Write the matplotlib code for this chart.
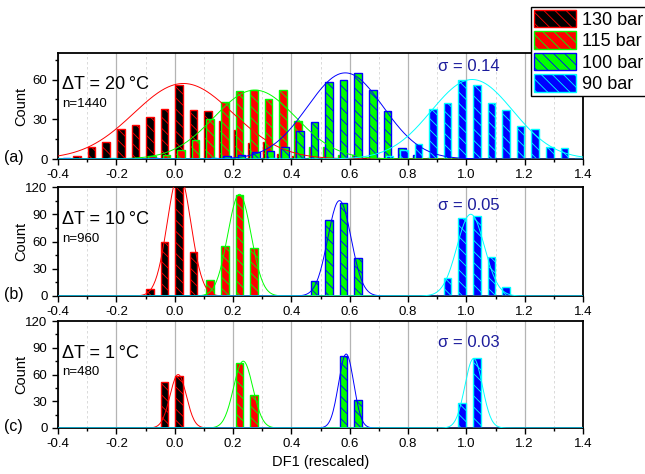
import matplotlib
matplotlib.use('Agg')
import matplotlib.pyplot as plt
import numpy as np

plt.rcParams['font.family'] = ['Liberation Sans', 'DejaVu Sans']
plt.rcParams['axes.unicode_minus'] = False
plt.rcParams['hatch.linewidth'] = 0.6

# ---- data (bin start, counts) ----
# panel (a)  dT = 20 C
x130_a = [-0.35, -0.3, -0.25, -0.2, -0.15, -0.1, -0.05, 0.0, 0.05, 0.1, 0.15, 0.2, 0.25, 0.3, 0.35, 0.4, 0.45]
n130_a = [2, 9, 13, 23, 26, 32, 38, 56, 37, 36, 29, 22, 12, 13, 4, 2, 1]
x115_a = [-0.15, -0.1, -0.05, 0.0, 0.05, 0.1, 0.15, 0.2, 0.25, 0.3, 0.35, 0.4, 0.45, 0.5, 0.55, 0.6, 0.65]
n115_a = [1, 2, 3, 7, 14, 30, 43, 51, 52, 45, 52, 29, 9, 9, 3, 3, 1]
x100_a = [-0.4, -0.1, 0.1, 0.15, 0.2, 0.25, 0.3, 0.35, 0.4, 0.45, 0.5, 0.55, 0.6, 0.65, 0.7, 0.75, 0.8, 0.85]
n100_a = [1, 1, 1, 2, 3, 5, 6, 9, 21, 28, 58, 60, 65, 52, 36, 8, 3, 1]
x90_a = [-0.25, 0.1, 0.3, 0.7, 0.75, 0.8, 0.85, 0.9, 0.95, 1.0, 1.05, 1.1, 1.15, 1.2, 1.25, 1.3, 1.35]
n90_a = [1, 1, 1, 2, 7, 11, 38, 42, 60, 56, 42, 37, 25, 23, 9, 8, 1]

# panel (b)  dT = 10 C
x130_b = [-0.1, -0.05, 0.0, 0.05]
n130_b = [8, 60, 124, 48]
x115_b = [0.1, 0.15, 0.2, 0.25]
n115_b = [18, 55, 111, 53]
x100_b = [0.45, 0.5, 0.55, 0.6]
n100_b = [16, 84, 102, 42]
x90_b = [0.9, 0.95, 1.0, 1.05, 1.1]
n90_b = [20, 86, 88, 43, 10]

# panel (c)  dT = 1 C
x130_c = [-0.05, 0.0]
n130_c = [52, 58]
x115_c = [0.2, 0.25]
n115_c = [73, 37]
x100_c = [0.55, 0.6]
n100_c = [81, 31]
x90_c = [0.95, 1.0]
n90_c = [28, 78]

# gaussian fits (centre, sigma, amplitude) per series
fit_a = [(0.03, 0.17, 57), (0.275, 0.14, 52), (0.585, 0.13, 65), (1.02, 0.14, 60)]
fit_b = [(0.015, 0.04, 135), (0.222, 0.04, 112), (0.565, 0.04, 105), (1.015, 0.047, 90)]
fit_c = [(0.012, 0.028, 60), (0.235, 0.033, 75), (0.588, 0.026, 83), (1.025, 0.03, 78)]

labels = ['130 bar', '115 bar', '100 bar', '90 bar']
face = ['#000000', '#ff0000', '#00ff00', '#0000ff']
edge = ['#ff0000', '#00ff00', '#0000ff', '#00ffff']
shift = [0.015, 0.022, 0.029, 0.036]

panels = [
    dict(xs=[x130_a, x115_a, x100_a, x90_a], ns=[n130_a, n115_a, n100_a, n90_a], fit=fit_a,
         ymax=80, dt='\u0394T = 20\u2009\u00b0C', n='n=1440', sig='\u03c3 = 0.14', sigy=70, tag='(a)'),
    dict(xs=[x130_b, x115_b, x100_b, x90_b], ns=[n130_b, n115_b, n100_b, n90_b], fit=fit_b,
         ymax=120, dt='\u0394T = 10\u2009\u00b0C', n='n=960', sig='\u03c3 = 0.05', sigy=100, tag='(b)'),
    dict(xs=[x130_c, x115_c, x100_c, x90_c], ns=[n130_c, n115_c, n100_c, n90_c], fit=fit_c,
         ymax=120, dt='\u0394T = 1\u2009\u00b0C', n='n=480', sig='\u03c3 = 0.03', sigy=96, tag='(c)'),
]

fig = plt.figure(figsize=(6.45, 4.74), dpi=100)
boxes = [(53, 159), (187, 296), (321, 428)]
W, H = 645.0, 474.0
xx = np.linspace(-0.4, 1.4, 600)
handles = []

for i, (p, (top, bot)) in enumerate(zip(panels, boxes)):
    ax = fig.add_axes([58 / W, 1 - bot / H, 525 / W, (bot - top) / H])
    for k in range(4):
        b = ax.bar(np.array(p['xs'][k]) + shift[k], p['ns'][k], width=0.026,
                   color=face[k], edgecolor=edge[k], hatch='\\\\\\', linewidth=1.0,
                   zorder=2 + k, label=labels[k])
        if i == 0:
            handles.append(b)
    for k, (mu, sg, amp) in enumerate(p['fit']):
        ax.plot(xx, amp * np.exp(-(xx - mu) ** 2 / (2 * sg ** 2)), color=edge[k], lw=0.7, zorder=7)

    ax.set_xlim(-0.4, 1.4)
    ax.set_ylim(0, p['ymax'])
    ax.set_xticks(np.arange(-0.4, 1.41, 0.2))
    ax.set_xticks(np.arange(-0.3, 1.4, 0.2), minor=True)
    ax.set_xticklabels(['%.1f' % v for v in np.arange(-0.4, 1.41, 0.2)])
    ax.set_yticks(np.arange(0, p['ymax'] + 1, 30))
    ax.set_yticks(np.arange(15, p['ymax'] + 1, 30), minor=True)
    ax.tick_params(axis='both', which='major', direction='out', length=4, width=1, labelsize=9.5)
    ax.tick_params(axis='both', which='minor', direction='out', length=2.5, width=1)
    ax.grid(True, axis='x', which='major', color='#b4b4b4', lw=0.9, zorder=0)
    ax.grid(True, axis='x', which='minor', color='#d4d4d4', lw=0.6, ls=(0, (3, 3)), zorder=0)
    ax.set_axisbelow(True)
    for s in ax.spines.values():
        s.set_linewidth(1.3)
    ax.set_ylabel('Count', fontsize=10.5)
    ax.yaxis.set_label_coords(-0.056, 0.5)

    ax.text(0.007, 0.70, p['dt'], transform=ax.transAxes, fontsize=13, va='center', ha='left', zorder=10)
    ax.text(0.007, 0.52, p['n'], transform=ax.transAxes, fontsize=9.5, va='center', ha='left', zorder=10)
    ax.text(1.01, p['sigy'], p['sig'], fontsize=12, color='#1c1c9c', ha='center', va='center', zorder=10)
    fig.text(4 / W, 1 - (bot - 2) / H, p['tag'], fontsize=11.5, va='center', ha='left')

    if i == 2:
        ax.set_xlabel('DF1 (rescaled)', fontsize=10.5, labelpad=3)

fig.legend(handles, labels, loc='upper left', bbox_to_anchor=(531 / W, 1 - 7 / H),
           fontsize=13, frameon=True, fancybox=False, edgecolor='black', framealpha=1,
           handlelength=2.35, handleheight=1.1, labelspacing=0.15, handletextpad=0.3,
           borderpad=0.15, borderaxespad=0)

fig.savefig('out.png', dpi=100)
